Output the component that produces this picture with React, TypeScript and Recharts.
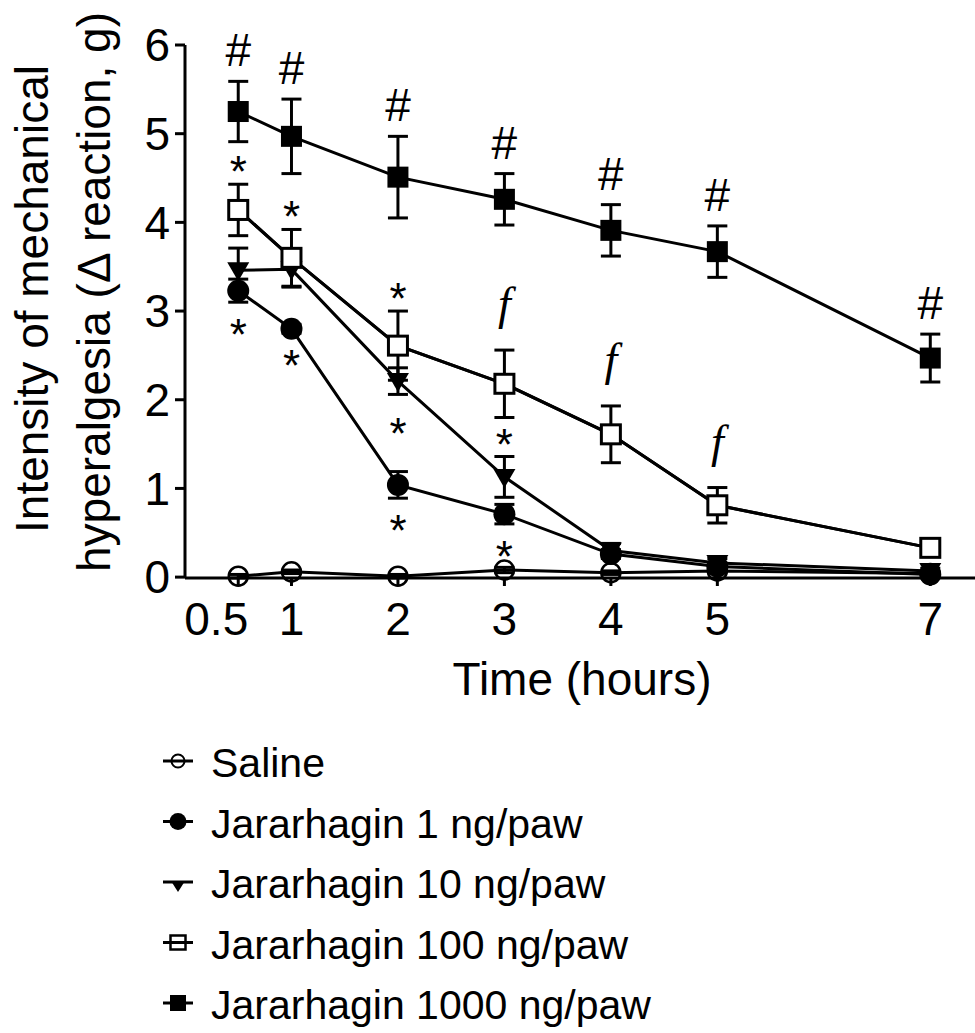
import React from 'react';
import { ComposedChart, Line, XAxis, YAxis, ErrorBar, ReferenceDot } from 'recharts';

const FONT = '"Liberation Sans", Arial, Helvetica, sans-serif';
const SERIF = '"Liberation Serif", "Times New Roman", serif';

// ---- data ----
const times = [0.5, 1, 2, 3, 4, 5, 7];
const xTickValues = [0.5, 1, 2, 3, 4, 5, 7];
const xTickLabels = ['0.5', '1', '2', '3', '4', '5', '7'];
const yTickValues = [0, 1, 2, 3, 4, 5, 6];

const seriesLabels = [
  'Saline',
  'Jararhagin 1 ng/paw',
  'Jararhagin 10 ng/paw',
  'Jararhagin 100 ng/paw',
  'Jararhagin 1000 ng/paw',
];

const salineMean = [0.01, 0.06, 0.01, 0.08, 0.05, 0.07, 0.04];
const salineSem = [0.02, 0.02, 0.02, 0.03, 0.02, 0.02, 0.02];
const j1Mean = [3.23, 2.8, 1.04, 0.71, 0.26, 0.12, 0.03];
const j1Sem = [0.13, 0.05, 0.15, 0.11, 0.05, 0.04, 0.02];
const j10Mean = [3.46, 3.47, 2.21, 1.13, 0.3, 0.16, 0.07];
const j10Sem = [0.25, 0.2, 0.15, 0.23, 0.08, 0.05, 0.03];
const j100Mean = [4.14, 3.6, 2.61, 2.18, 1.61, 0.81, 0.33];
const j100Sem = [0.29, 0.32, 0.39, 0.38, 0.32, 0.2, 0.05];
const j1000Mean = [5.25, 4.97, 4.51, 4.26, 3.91, 3.67, 2.47];
const j1000Sem = [0.34, 0.42, 0.46, 0.29, 0.29, 0.29, 0.27];

// significance marks
const hash1000Times = [0.5, 1, 2, 3, 4, 5, 7];
const star100AboveTimes = [0.5, 1, 2];
const star10AboveTimes = [3];
const star10BelowTimes = [2];
const star1BelowTimes = [0.5, 1, 2, 3];
const f100AboveTimes = [3, 4, 5];

const data = times.map((t, i) => ({
  t,
  saline: salineMean[i],
  salineErr: salineSem[i],
  j1: j1Mean[i],
  j1Err: j1Sem[i],
  j10: j10Mean[i],
  j10Err: j10Sem[i],
  j100: j100Mean[i],
  j100Err: j100Sem[i],
  j1000: j1000Mean[i],
  j1000Err: j1000Sem[i],
}));

const markAt = (ts: number[], mean: number[], sem: number[], sign: number) =>
  ts.map((t) => {
    const i = times.indexOf(t);
    return { t, y: mean[i] + sign * sem[i] };
  });

// ---- markers ----
const openCircle = (p: any) =>
  p.cx == null ? <g key={`oc-${p.index}`} /> : (
    <circle key={`oc-${p.index}`} cx={p.cx} cy={p.cy} r={9.5} fill="none" stroke="#000" strokeWidth={2.5} />
  );
const filledCircle = (p: any) =>
  p.cx == null ? <g key={`fc-${p.index}`} /> : (
    <circle key={`fc-${p.index}`} cx={p.cx} cy={p.cy} r={11} fill="#000" stroke="none" />
  );
const filledTriangle = (p: any) =>
  p.cx == null ? <g key={`tr-${p.index}`} /> : (
    <polygon
      key={`tr-${p.index}`}
      points={`${p.cx - 11},${p.cy - 8} ${p.cx + 11},${p.cy - 8} ${p.cx},${p.cy + 11}`}
      fill="#000"
    />
  );
const openSquare = (p: any) =>
  p.cx == null ? <g key={`os-${p.index}`} /> : (
    <rect key={`os-${p.index}`} x={p.cx - 9.5} y={p.cy - 9.5} width={19} height={19} fill="#fff" stroke="#000" strokeWidth={3} />
  );
const filledSquare = (p: any) =>
  p.cx == null ? <g key={`fs-${p.index}`} /> : (
    <rect key={`fs-${p.index}`} x={p.cx - 10.5} y={p.cy - 10.5} width={21} height={21} fill="#000" />
  );

const textShape = (txt: string, dy: number, family: string, size: number, italic = false) => (p: any) => (
  <text
    x={p.cx}
    y={p.cy + dy}
    textAnchor="middle"
    fontFamily={family}
    fontSize={size}
    fontStyle={italic ? 'italic' : 'normal'}
    fill="#000"
  >
    {txt}
  </text>
);

const XTick = (p: any) => {
  const v = p.payload?.value;
  const idx = xTickValues.indexOf(v);
  const label = idx >= 0 ? xTickLabels[idx] : String(v);
  const first = idx === 0;
  return (
    <text
      x={p.x + (first ? 10 : 0)}
      y={p.y}
      dy="0.71em"
      textAnchor={first ? 'end' : 'middle'}
      fontFamily={FONT}
      fontSize={46}
      fill="#000"
    >
      {label}
    </text>
  );
};

const LegendSymbol = ({ kind, cx, cy }: { kind: number; cx: number; cy: number }) => {
  const line = <line x1={cx - 15} x2={cx + 15} y1={cy} y2={cy} stroke="#000" strokeWidth={3} />;
  let m: React.ReactNode = null;
  if (kind === 0) m = <circle cx={cx} cy={cy} r={6.5} fill="none" stroke="#000" strokeWidth={2} />;
  if (kind === 1) m = <circle cx={cx} cy={cy} r={8.5} fill="#000" />;
  if (kind === 2) m = <polygon points={`${cx - 7},${cy - 1} ${cx + 7},${cy - 1} ${cx},${cy + 10}`} fill="#000" />;
  if (kind === 3) m = <rect x={cx - 7.5} y={cy - 7} width={15} height={14} fill="none" stroke="#000" strokeWidth={2.5} />;
  if (kind === 4) m = <rect x={cx - 8} y={cy - 8} width={16} height={16} fill="#000" />;
  return (
    <g>
      {line}
      {m}
    </g>
  );
};

export default function App() {
  const hashMarks = markAt(hash1000Times, j1000Mean, j1000Sem, 1);
  const starAbove100 = markAt(star100AboveTimes, j100Mean, j100Sem, 1);
  const starAbove10 = markAt(star10AboveTimes, j10Mean, j10Sem, 1);
  const starBelow10 = markAt(star10BelowTimes, j10Mean, j10Sem, -1);
  const starBelow1 = markAt(star1BelowTimes, j1Mean, j1Sem, -1);
  const fMarks = markAt(f100AboveTimes, j100Mean, j100Sem, 1);

  const tickStyle = { fontSize: 46, fill: '#000', fontFamily: FONT };

  return (
    <div style={{ position: 'absolute', left: 0, top: 0, width: 975, height: 1033, background: '#fff' }}>
      <ComposedChart width={975} height={720} data={data} margin={{ top: 45, right: 0, bottom: 0, left: 0 }}>
        <XAxis
          type="number"
          dataKey="t"
          domain={[0, 7.42]}
          allowDataOverflow
          ticks={xTickValues}
          interval={0}
          tick={<XTick />}
          tickSize={8}
          tickMargin={16}
          axisLine={{ stroke: '#000', strokeWidth: 3 }}
          tickLine={{ stroke: '#000', strokeWidth: 3 }}
          height={142}
        />
        <YAxis
          type="number"
          domain={[0, 6]}
          ticks={yTickValues}
          interval={0}
          tick={tickStyle}
          tickSize={10}
          tickMargin={5}
          axisLine={{ stroke: '#000', strokeWidth: 3 }}
          tickLine={{ stroke: '#000', strokeWidth: 3 }}
          width={185}
        />
        <Line dataKey="saline" name={seriesLabels[0]} stroke="#000" strokeWidth={3} dot={openCircle} activeDot={false} isAnimationActive={false}>
          <ErrorBar dataKey="salineErr" width={10} stroke="#000" strokeWidth={3} direction="y" />
        </Line>
        <Line dataKey="j1" name={seriesLabels[1]} stroke="#000" strokeWidth={3} dot={filledCircle} activeDot={false} isAnimationActive={false}>
          <ErrorBar dataKey="j1Err" width={10} stroke="#000" strokeWidth={3} direction="y" />
        </Line>
        <Line dataKey="j10" name={seriesLabels[2]} stroke="#000" strokeWidth={3} dot={filledTriangle} activeDot={false} isAnimationActive={false}>
          <ErrorBar dataKey="j10Err" width={10} stroke="#000" strokeWidth={3} direction="y" />
        </Line>
        <Line dataKey="j100" name={seriesLabels[3]} stroke="#000" strokeWidth={3} dot={openSquare} activeDot={false} isAnimationActive={false}>
          <ErrorBar dataKey="j100Err" width={10} stroke="#000" strokeWidth={3} direction="y" />
        </Line>
        <Line dataKey="j100" name={seriesLabels[3] + ' line'} stroke="#000" strokeWidth={3} dot={false} activeDot={false} legendType="none" isAnimationActive={false} />
        <Line dataKey="j1000" name={seriesLabels[4]} stroke="#000" strokeWidth={3} dot={filledSquare} activeDot={false} isAnimationActive={false}>
          <ErrorBar dataKey="j1000Err" width={10} stroke="#000" strokeWidth={3} direction="y" />
        </Line>

        {hashMarks.map((m) => (
          <ReferenceDot key={`h-${m.t}`} x={m.t} y={m.y} r={0} ifOverflow="visible" shape={textShape('#', -15, FONT, 46)} />
        ))}
        {starAbove100.map((m) => (
          <ReferenceDot key={`s100-${m.t}`} x={m.t} y={m.y} r={0} ifOverflow="visible" shape={textShape('*', 3, FONT, 44)} />
        ))}
        {starAbove10.map((m) => (
          <ReferenceDot key={`s10a-${m.t}`} x={m.t} y={m.y} r={0} ifOverflow="visible" shape={textShape('*', 3, FONT, 44)} />
        ))}
        {starBelow10.map((m) => (
          <ReferenceDot key={`s10b-${m.t}`} x={m.t} y={m.y} r={0} ifOverflow="visible" shape={textShape('*', 55, FONT, 44)} />
        ))}
        {starBelow1.map((m) => (
          <ReferenceDot key={`s1-${m.t}`} x={m.t} y={m.y} r={0} ifOverflow="visible" shape={textShape('*', 48, FONT, 44)} />
        ))}
        {fMarks.map((m) => (
          <ReferenceDot key={`f-${m.t}`} x={m.t} y={m.y} r={0} ifOverflow="visible" shape={textShape('f', -31, SERIF, 46, true)} />
        ))}
      </ComposedChart>

      <svg
        width={975}
        height={1033}
        style={{ position: 'absolute', left: 0, top: 0, pointerEvents: 'none' }}
      >
        <g fontFamily={FONT} fontSize={46} fill="#000">
          <text transform="translate(48,299) rotate(-90)" textAnchor="middle">Intensity of mechanical</text>
          <text transform="translate(110,292) rotate(-90)" textAnchor="middle">hyperalgesia (Δ reaction, g)</text>
          <text x={582} y={695} textAnchor="middle">Time (hours)</text>
        </g>
        <g fontFamily={FONT} fontSize={41} fill="#000">
          {seriesLabels.map((lab, i) => {
            const base = 777 + i * 60.5;
            return (
              <g key={lab}>
                <LegendSymbol kind={i} cx={178} cy={base - 16} />
                <text x={211} y={base}>{lab}</text>
              </g>
            );
          })}
        </g>
      </svg>
    </div>
  );
}
